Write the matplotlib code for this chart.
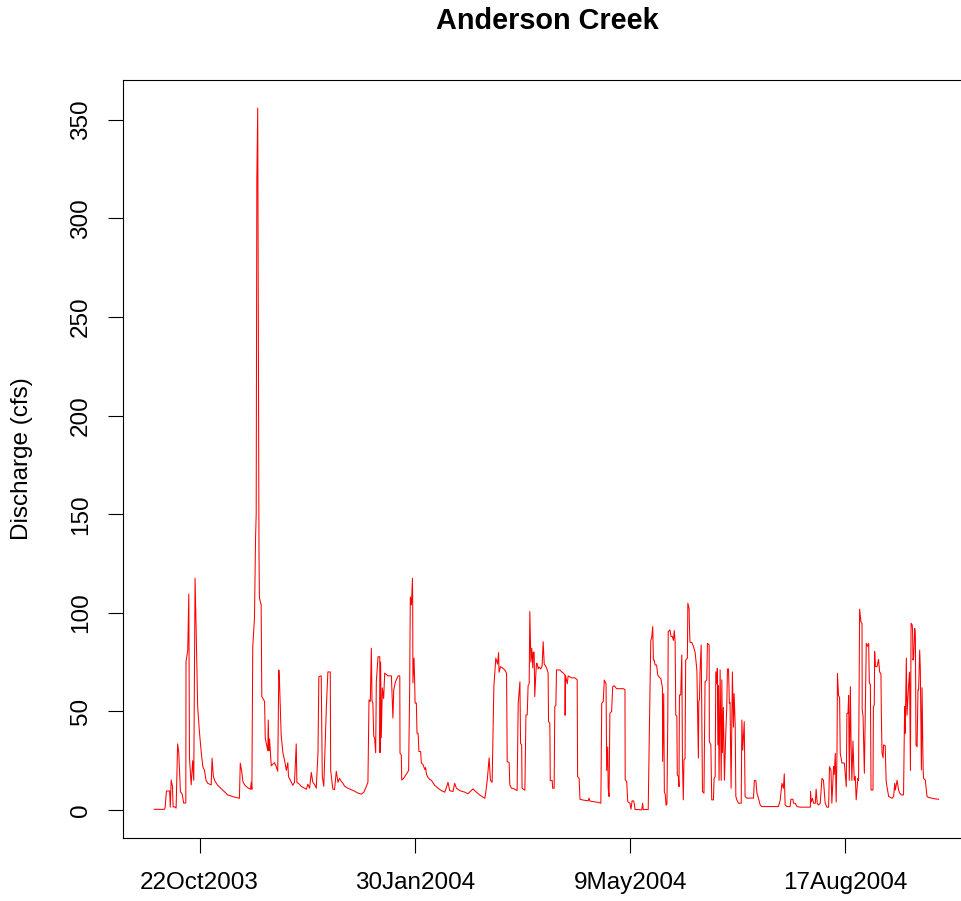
import numpy as np
import matplotlib
matplotlib.use("Agg")
import matplotlib.pyplot as plt
import matplotlib.dates as mdates
import datetime as dt

plt.rcParams["font.family"] = ["Liberation Sans", "DejaVu Sans"]

# Discharge record for the 2004 water year, day offsets from 1 Oct 2003
record_start = dt.datetime(2003, 10, 1)

day_fall = [0.0, 4.7, 5.0, 5.6, 7.1, 7.4, 7.8, 8.4, 8.7, 9.6, 10.1, 10.8, 11.3, 12.1, 12.9, 13.6,
            14.6, 14.7, 15.5, 16.0, 16.3, 17.1, 17.8, 18.3, 18.9, 19.4, 20.1, 20.9, 21.7, 22.5,
            23.3, 24.0, 24.8, 26.4, 26.8, 27.4, 28.2, 29.4, 31.8, 34.1, 37.2, 39.5, 39.9, 40.6,
            41.1, 41.9, 43.4, 44.7, 45.0, 45.3, 45.7, 46.5, 47.0, 47.3, 47.6, 48.0, 48.3, 48.6,
            48.8, 49.6, 49.9, 51.2, 51.5, 52.7, 52.9, 53.2, 53.5, 54.3, 55.8, 56.6, 57.3]
cfs_fall = [0.3, 0.3, 1.3, 9.6, 9.6, 1.4, 15.2, 12, 1.5, 1.5, 0.9, 33.5, 29.6, 9.3, 8, 3.5,
            3.5, 75.2, 81, 109.5, 26.4, 12.7, 25, 15, 117.5, 92, 52.4, 40, 30, 22,
            20, 15, 13.5, 12.7, 26.2, 17, 14.5, 12.5, 10, 7.6, 6.5, 5.9, 23.7, 19.5,
            14.5, 12.7, 11.2, 10.5, 14, 10.5, 82.8, 97.2, 138, 150, 320, 356, 235, 130,
            107.5, 104, 57.5, 55, 36.4, 30, 45.6, 30, 36, 22.4, 24, 22, 19.6]

day_winter = [57.8, 58.1, 58.9, 59.7, 60.5, 61.3, 62.0, 62.3, 63.6, 64.3, 65.1, 65.9, 66.2, 67.4,
              68.2, 69.8, 70.6, 71.3, 72.1, 72.9, 73.6, 74.4, 75.2, 76.0, 76.4, 77.5, 78.0, 78.7,
              79.9, 80.6, 81.7, 81.9, 82.9, 83.7, 84.5, 85.3, 86.0, 86.8, 87.6, 88.4, 89.9, 91.5,
              93.0, 94.6, 96.1, 97.3, 98.5, 99.2, 99.7, 100.3, 100.8, 101.1, 101.5, 101.9, 102.3,
              102.8, 103.1, 103.9, 104.7, 104.8, 105.1, 105.4, 105.9, 106.5, 107.0, 108.5, 110.1,
              110.8, 111.2, 112.0, 113.2, 114.0, 114.1, 114.7, 114.9, 115.8, 118.1]
cfs_winter = [71, 66, 38, 29, 25, 20, 24, 17, 14, 12.5, 14, 33.5, 14, 13,
              12, 11, 10.5, 13, 11, 19, 14, 13, 11, 29, 67.6, 68, 17, 12,
              52.4, 70, 70, 20, 10.6, 10.3, 19.6, 14, 16, 14.5, 13.5, 12, 11, 10.2,
              9.5, 8.5, 8, 9, 12, 14, 55.8, 55, 82, 55.5, 54, 37.2, 36.5,
              29, 65, 77.7, 77.7, 29, 75, 36.7, 61.9, 56.5, 69.4, 68, 68,
              46.6, 61, 65, 68, 68, 28.7, 28, 15.2, 16, 20]

day_spring = [118.6, 118.7, 118.9, 119.4, 119.9, 120.0, 120.1, 120.6, 120.9, 121.1, 121.7, 122.0,
              122.5, 122.9, 123.7, 124.0, 124.8, 125.6, 126.0, 126.4, 127.1, 127.9, 128.7, 130.2,
              131.8, 133.3, 134.9, 135.7, 136.4, 137.2, 138.7, 139.5, 140.3, 141.9, 144.2, 145.7,
              148.0, 148.8, 151.2, 153.5, 154.0, 154.7, 155.5, 156.1, 156.9, 157.7, 158.6, 159.4,
              159.9, 160.1, 160.8, 161.7, 162.8, 163.6, 163.9, 164.8, 165.1, 165.9, 166.7, 168.5,
              169.0, 169.8, 170.1, 170.6, 170.8, 172.1, 172.6, 173.2, 173.6, 174.1, 174.4, 174.9,
              175.3, 175.8, 176.0, 176.4, 176.7, 177.1, 177.5]
cfs_spring = [62, 81, 108, 104, 117.5, 104, 64.4, 77, 66, 54.2, 54.2, 38.9,
              38.9, 29.6, 29.6, 23.8, 23, 20.5, 21.5, 18, 16.5, 15.5, 15, 12.5,
              11, 9.8, 9, 11.5, 14, 9.8, 9.3, 13.5, 11, 9.8, 9, 8.2,
              10.7, 9.8, 7.5, 5.9, 9.3, 16, 26.4, 15, 14, 62.5, 77, 74,
              79.8, 69.8, 72.7, 72, 71, 69.3, 24.5, 24, 12.7, 11, 10.9, 9.8,
              54.1, 65, 33.8, 33, 11, 10, 48.2, 48.2, 63, 64, 100.6, 75,
              82, 72, 80, 80, 57.5, 67, 74.4]

day_may = [177.8, 178.3, 178.7, 179.5, 180.1, 180.6, 181.1, 181.7, 182.2, 182.9, 183.1, 183.7,
           183.9, 184.8, 185.0, 185.7, 186.0, 186.5, 186.8, 188.4, 189.2, 189.9, 190.7, 190.8,
           191.0, 191.8, 192.2, 193.8, 195.3, 196.4, 196.6, 197.3, 197.7, 199.2, 201.5, 201.9,
           202.3, 203.9, 206.2, 207.4, 207.8, 208.5, 209.0, 209.8, 210.1, 210.6, 210.8, 211.2,
           211.6, 212.4, 212.9, 213.6, 214.7, 216.3, 217.8, 218.6, 218.7, 219.4, 219.9, 220.9,
           221.4, 221.9, 222.5, 222.9, 223.3, 224.8, 226.4, 226.8, 227.1, 229.4, 229.9, 230.6,
           231.0, 231.5, 231.8, 232.2, 232.6, 233.3, 233.8, 234.4, 235.3, 236.0, 236.1, 236.6,
           236.9, 237.3, 237.7, 238.1, 238.5, 238.7]
cfs_may = [74.4, 71.5, 72.5, 71.5, 73, 85.3, 74, 73, 72, 69.5, 44.8, 44,
           14.9, 14.9, 11, 11, 52.4, 53, 71, 71, 70, 69.5, 68.5, 48,
           68, 64, 68, 67, 67, 66, 16.9, 16, 5.4, 5, 4.6, 6,
           4.5, 4.2, 3.8, 3.4, 54.1, 55, 65.9, 64, 20, 32, 11, 6.8,
           49, 50, 62.5, 63, 61.5, 61.5, 61.5, 61, 15.2, 14.5, 4.2, 3.4,
           0.4, 4.6, 4.6, 3.4, 0.2, 0.2, 0, 3.4, 0.2, 0.2, 38, 86.2,
           87, 93, 76, 76, 73.5, 73.5, 68.5, 67.5, 66.5, 62, 24.6, 59,
           9, 8, 2.4, 3, 48, 90.4]

day_summer = [239.5, 240.0, 240.6, 241.1, 241.5, 241.9, 242.2, 242.7, 242.9, 243.4, 243.7, 243.9,
              244.5, 245.0, 245.3, 245.7, 246.0, 246.5, 246.8, 247.6, 247.8, 248.4, 248.5, 248.8,
              249.6, 250.4, 251.2, 252.0, 252.7, 252.9, 253.2, 253.5, 254.0, 254.6, 255.3, 255.8,
              256.6, 256.9, 257.7, 257.8, 258.5, 258.9, 259.7, 260.0, 260.5, 260.8, 261.3, 261.5,
              261.9, 262.0, 262.3, 262.8, 263.3, 263.6, 263.9, 264.3, 264.8, 265.4, 265.9, 266.2,
              266.7, 267.1, 267.4, 267.9, 268.5, 269.0, 269.3, 269.8, 270.1, 270.6, 271.3, 272.6,
              272.9, 273.3, 274.0, 274.4, 275.2, 278.3, 278.7, 279.4, 279.9, 280.6, 281.4, 282.2,
              286.8, 289.9, 290.7, 291.5, 292.2, 292.6, 293.0, 293.8, 295.3, 295.7, 296.6, 296.9,
              297.7, 298.5, 300.0]
cfs_summer = [91.3, 88, 88, 86, 91, 85, 48.2, 47.5, 17.7, 17, 11.8, 58.3,
              58.3, 78.6, 25.4, 5.1, 25.4, 26, 76, 77, 104.8, 102, 95, 85,
              85, 83, 79.8, 71, 26.3, 55, 56, 71, 83.7, 9.3, 8.5, 65,
              66, 84.5, 83.7, 34.6, 33, 5.1, 5.1, 16, 17, 70.1, 64, 71.8,
              33, 63, 15, 71, 15, 66, 29, 52, 15, 38, 52.5, 71.5,
              71.5, 54, 54.5, 11, 70, 42, 59, 43, 6.8, 5, 3.4, 3.4,
              45.6, 30.4, 44.8, 6.8, 6, 6, 14.9, 14.9, 8.5, 6, 2.5, 1.7,
              1.7, 1.7, 5, 13.5, 11, 18.3, 2.5, 1.7, 1.7, 5.4, 5.4, 3.4,
              3.4, 1.7, 1.4]

day_late = [304.7, 304.8, 305.1, 305.7, 306.2, 307.0, 307.4, 307.9, 308.5, 309.3, 310.1, 310.8,
            311.6, 312.4, 313.2, 313.6, 314.3, 314.7, 315.5, 315.8, 316.3, 316.7, 317.1, 317.3,
            317.8, 318.3, 318.6, 319.4, 320.5, 320.9, 321.4, 321.7, 322.2, 322.5, 322.8, 323.3,
            323.6, 324.0, 324.5, 325.1, 325.6, 326.0, 326.8, 327.1, 327.6, 328.2, 328.7, 328.8,
            329.2, 329.8, 330.2, 330.7, 331.3, 331.8, 332.1, 332.6, 332.9, 333.8, 334.0, 334.4,
            334.6, 334.9, 335.7, 336.4, 336.9, 337.5, 337.7, 338.0, 338.5, 338.7, 339.5, 339.9,
            340.3, 341.1, 341.9, 342.7, 343.4, 343.9, 344.2, 345.0, 345.7, 346.2, 347.0, 348.0,
            348.5, 348.8, 349.3, 349.6, 350.4, 350.8, 351.2, 351.5, 352.0, 352.2, 352.4, 352.7,
            353.2, 353.5, 353.8, 354.3, 354.7, 355.0, 355.5, 355.8, 356.3, 356.6, 357.1, 357.3,
            358.1, 358.9, 359.7, 361.3, 362.8, 364.3]
cfs_late = [1.4, 9.3, 4, 5.9, 3.4, 3.4, 10.5, 3.4, 2.5, 3.4, 16, 15,
            3.4, 1.4, 1.4, 22, 20, 3.4, 22, 18, 28.7, 4, 30, 69.3,
            58, 57, 28.7, 23.8, 23.8, 18.6, 11.8, 49, 49, 58, 15, 62.5,
            35, 15, 35, 15, 17, 5.1, 16, 15, 101.8, 95.5, 94.5, 50.7,
            47.5, 18.6, 47.5, 84.5, 83, 84.5, 64.5, 63.5, 10.1, 10.1, 52.4, 53,
            80.3, 72.7, 72.7, 76.4, 70, 69, 48.2, 29, 26.4, 33, 32.5, 15,
            11.8, 6.8, 6.4, 5.9, 6.8, 13.5, 10.1, 15, 10.1, 8.5, 7.6, 7.6,
            52.4, 38.9, 77, 48, 64, 69.9, 20, 94.7, 93.9, 91, 76, 77.5,
            92, 88.4, 33, 32, 60.9, 60.9, 81.1, 71, 20.3, 62, 20.3, 16,
            15.2, 6.8, 6.3, 5.9, 5.6, 5.4]

tick_dates = ["2003-10-22", "2004-01-30", "2004-05-09", "2004-08-17"]
y_ticks = [0, 50, 100, 150, 200, 250, 300, 350]

days = np.concatenate([day_fall, day_winter, day_spring, day_may, day_summer, day_late])
cfs = np.concatenate([cfs_fall, cfs_winter, cfs_spring, cfs_may, cfs_summer, cfs_late])
times = [record_start + dt.timedelta(days=float(d)) for d in days]
tnum = mdates.date2num(times)

fig = plt.figure(figsize=(9.62, 9.01), dpi=100)
ax = fig.add_axes([123 / 962, 63 / 901, 847 / 962, 758 / 901])
ax.plot(tnum, cfs, color="red", linewidth=0.75)

# R-style 4% padding around the data range
span_x = tnum.max() - tnum.min()
ax.set_xlim(tnum.min() - 0.04 * span_x, tnum.max() + 0.04 * span_x)
span_y = cfs.max() - cfs.min()
ax.set_ylim(cfs.min() - 0.04 * span_y, cfs.max() + 0.04 * span_y)

tick_dt = [dt.datetime.strptime(s, "%Y-%m-%d") for s in tick_dates]
ax.set_xticks(mdates.date2num(tick_dt))
ax.set_xticklabels([f"{d.day}{d.strftime('%b%Y')}" for d in tick_dt])
ax.set_yticks(y_ticks)
ax.set_yticklabels([str(v) for v in y_ticks], rotation=90, va="center")

for sp in ax.spines.values():
    sp.set_linewidth(0.8)
ax.tick_params(axis="both", length=10.5, width=0.8, labelsize=17.5, color="black")
ax.tick_params(axis="x", pad=14)
ax.tick_params(axis="y", pad=12)

fig.text(22 / 962, 0.5 * (1 - (80 + 838) / 901) + 0.5, "Discharge (cfs)", rotation=90,
         ha="center", va="center", fontsize=17.5)
fig.text(547 / 962, 1 - 21 / 901, "Anderson Creek", ha="center", va="center",
         fontsize=20.8, fontweight="bold")

fig.savefig("out.png", dpi=100)
